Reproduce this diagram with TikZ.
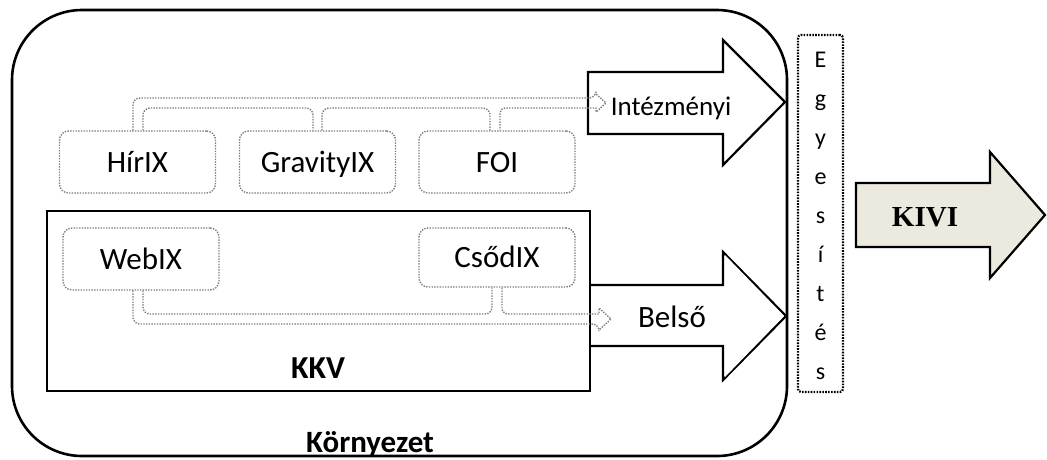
\documentclass[tikz,border=0pt]{standalone}
\usepackage{fontspec}
\setmainfont{Carlito}
\newfontfamily\timesf{Liberation Serif}
\usetikzlibrary{calc}
\definecolor{dotgrey}{RGB}{125,125,125}
\definecolor{kivifill}{RGB}{236,234,223}
\begin{document}
\begin{tikzpicture}[x=1pt,y=-1pt,
  ixbox/.style={draw=dotgrey, line width=1.4pt, dash pattern=on 1.4pt off 1.3pt, rounded corners=9pt,
    minimum width=156pt, minimum height=62pt, inner sep=0pt, text height=20pt, text depth=0pt,
    font=\fontsize{31}{36}\selectfont},
  conn/.style={draw=dotgrey, line width=1.4pt, dash pattern=on 1.4pt off 1.3pt},
  bigarrow/.style={draw=black, line width=2.2pt, fill=white, line join=miter},
  lbl/.style={inner sep=0pt, anchor=base},
]
\useasboundingbox (0,0) rectangle (1047,459);

% Környezet (outer rounded frame)
\node[draw, line width=2.6pt, rounded corners=70pt, minimum width=775pt, minimum height=446pt,
      inner sep=0pt] (env) at (399.5,233) {};
% KKV frame
\node[draw, line width=2.4pt, minimum width=543pt, minimum height=180pt, inner sep=0pt]
      (kkv) at (318.5,301) {};

% big block arrows
\draw[bigarrow] (588,72) -- (723,72) -- (723,40) -- (785,102) -- (723,165) -- (723,134) -- (588,134) -- cycle;
\fill[white] (591,287) rectangle (724,344);
\draw[bigarrow, fill=none] (591,285) -- (723,285) -- (723,252) -- (786,316) -- (723,380) -- (723,346) -- (591,346);
\fill[white] (725,287) -- (725,255) -- (784,316) -- (725,377) -- (725,344) -- cycle;

% grey index boxes
\node[ixbox] (hir)  at (137.5,162) {HírIX};
\node[ixbox] (grav) at (317.5,162) {GravityIX};
\node[ixbox] (foi)  at (497,162)   {FOI};
\node[ixbox] (web)  at (141,259)   {WebIX};
\node[ixbox, minimum height=59pt] (csod) at (497,257.5) {CsődIX};

% labels
\node[lbl, font=\fontsize{27}{32}\selectfont] (inst) at (671,115) {Intézményi};
\node[lbl, font=\fontsize{31}{36}\selectfont] (bel) at (672,327) {Belső};
\node[lbl, font=\fontsize{32}{36}\selectfont\bfseries] (kkvl) at (318,378) {KKV};
\node[lbl, font=\fontsize{31}{36}\selectfont\bfseries] (envl) at (370,452) {Környezet};

% coordinates of the dotted arrow tips
\coordinate (itip) at (606,103);
\coordinate (btip) at (611,319);

% dotted hollow connectors (top)
\draw[conn] ([xshift=-4.5pt]hir.north) [rounded corners=7pt] |- (596,98) [sharp corners]
  -- (596,94) -- (itip) -- (596,112) -- (596,108) [rounded corners=5pt] -| ([xshift=3pt]foi.north);
\draw[conn] ([xshift=5.5pt]hir.north) [rounded corners=7pt] |- (313,108) [sharp corners] -- ([xshift=-4.5pt]grav.north);
\draw[conn] ([xshift=4.5pt]grav.north) [rounded corners=7pt] |- (490,108) [sharp corners] -- ([xshift=-7pt]foi.north);

% dotted hollow connectors (bottom)
\draw[conn] ([xshift=-8pt]web.south) [rounded corners=7pt] |- (599,324) [sharp corners]
  -- (599,330) -- (btip) -- (599,308) -- (599,314) [rounded corners=6pt] -| ([xshift=5pt]csod.south);
\draw[conn] ([xshift=2pt]web.south) [rounded corners=7pt] |- (492,314) [sharp corners] -- ([xshift=-5pt]csod.south);

% Egyesítés
\node[draw, line width=2.2pt, dash pattern=on 1.6pt off 1.3pt, rounded corners=3pt,
      minimum width=45pt, minimum height=357pt, inner sep=0pt] (egy) at (820.5,213.5) {};
\foreach \l [count=\i] in {E,g,y,e,s,í,t,é,s}
  \node[lbl, font=\fontsize{24}{28}\selectfont] (egy\i) at (820.5,28+39*\i) {\l};

% KIVI arrow
\draw[bigarrow, fill=kivifill] (856,183) -- (990,183) -- (990,152) -- (1045,215) -- (990,278) -- (990,247) -- (856,247) -- cycle;
\node[lbl, font=\fontsize{29}{34}\selectfont\timesf\bfseries] (kivi) at (925,226) {KIVI};
\end{tikzpicture}
\end{document}
